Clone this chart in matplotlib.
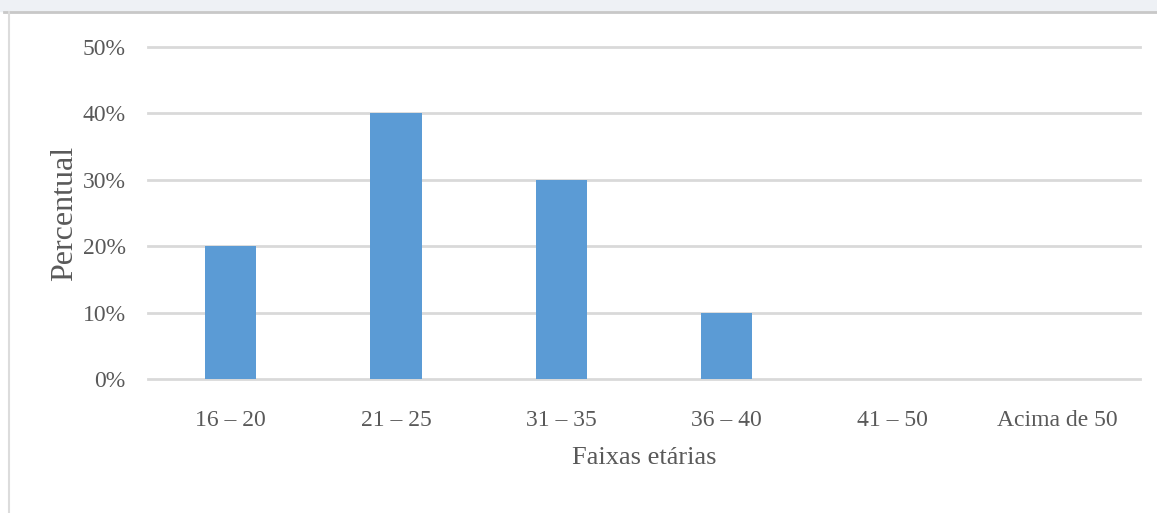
import matplotlib.pyplot as plt
from matplotlib.ticker import PercentFormatter
from matplotlib.lines import Line2D

# dados
faixas = ["16 – 20", "21 – 25", "31 – 35", "36 – 40", "41 – 50", "Acima de 50"]
percentual = [0.20, 0.40, 0.30, 0.10, 0.0, 0.0]
yticks = [0.0, 0.1, 0.2, 0.3, 0.4, 0.5]

plt.rcParams['font.family'] = ['Liberation Serif', 'DejaVu Serif']
cor_texto = "#595959"

fig = plt.figure(figsize=(11.57, 5.13), dpi=100)
ax = fig.add_axes([0.128, 0.2612, 0.8573, 0.6472])

x = range(len(faixas))
ax.bar(x, percentual, width=0.31, color="#5B9BD5", zorder=3)

ax.set_xlim(-0.5, len(faixas) - 0.5)
ax.set_ylim(0, 0.5)
ax.set_yticks(yticks)
ax.yaxis.set_major_formatter(PercentFormatter(1.0, decimals=0))
ax.set_xticks(list(x))
ax.set_xticklabels(faixas)

ax.grid(axis="y", color="#D9D9D9", linewidth=2, zorder=0)
for g in ax.get_ygridlines():
    g.set_clip_on(False)
ax.set_axisbelow(True)
for s in ax.spines.values():
    s.set_visible(False)
ax.tick_params(axis="both", length=0, labelsize=17, colors=cor_texto)
ax.tick_params(axis="y", pad=16)
ax.tick_params(axis="x", pad=22)

ax.set_xlabel("Faixas etárias", fontsize=19, color=cor_texto, labelpad=12)
ax.set_ylabel("Percentual", fontsize=23, color=cor_texto, labelpad=3)

# moldura da captura
fig.patches.append(plt.Rectangle((0, 1 - 11 / 513), 1, 11 / 513, transform=fig.transFigure,
                                 color="#EEF1F5", zorder=0))
fig.lines.append(Line2D([4 / 1157, 1], [1 - 12 / 513] * 2, transform=fig.transFigure,
                        color="#C8C8C8", linewidth=2))
fig.lines.append(Line2D([9 / 1157] * 2, [0, 1 - 12 / 513], transform=fig.transFigure,
                        color="#DCDCDC", linewidth=1.5))

plt.savefig("out.png", dpi=100)
